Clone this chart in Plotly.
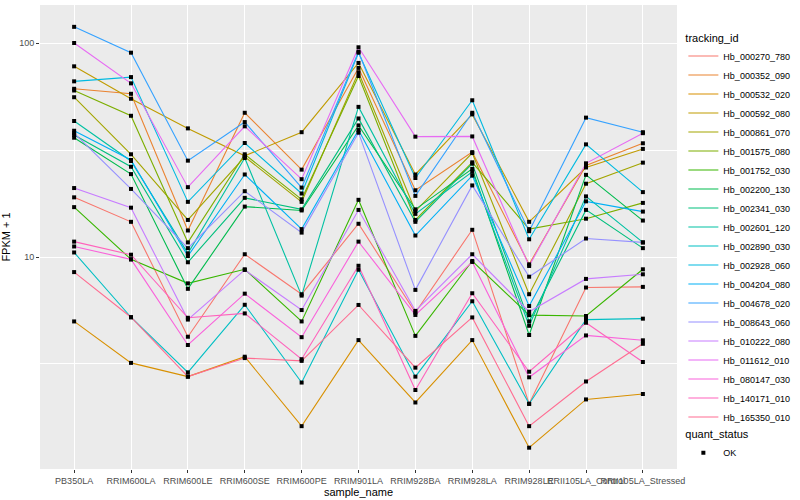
import plotly.graph_objects as go

samples = ["PB350LA", "RRIM600LA", "RRIM600LE", "RRIM600SE", "RRIM600PE", "RRIM901LA",
           "RRIM928BA", "RRIM928LA", "RRIM928LE", "RRII105LA_Control", "RRII105LA_Stressed"]

tracking_ids = ["Hb_000270_780", "Hb_000352_090", "Hb_000532_020", "Hb_000592_080", "Hb_000861_070",
                "Hb_001575_080", "Hb_001752_030", "Hb_002200_130", "Hb_002341_030", "Hb_002601_120",
                "Hb_002890_030", "Hb_002928_060", "Hb_004204_080", "Hb_004678_020", "Hb_008643_060",
                "Hb_010222_080", "Hb_011612_010", "Hb_080147_030", "Hb_140171_010", "Hb_165350_010"]

colors = ["#F8766D", "#EA8331", "#D89000", "#C09B00", "#A3A500", "#7CAE00", "#39B600", "#00BB4E",
          "#00BF7D", "#00C1A3", "#00BFC4", "#00BAE0", "#00B0F6", "#35A2FF", "#9590FF", "#C77CFF",
          "#E76BF3", "#FA62DB", "#FF62BC", "#FF6C91"]

# FPKM + 1 per sample
hb_000270_780 = [19.0, 14.6, 4.24, 10.3, 6.7, 14.3, 5.5, 13.4, 2.06, 7.2, 7.25]
hb_000352_090 = [61.1, 57.9, 13.3, 47.2, 25.6, 76.5, 20.5, 30.9, 9.24, 26.8, 34.0]
hb_000532_020 = [5.0, 3.2, 2.76, 3.42, 1.62, 4.09, 2.09, 4.09, 1.285, 2.16, 2.29]
hb_000592_080 = [77.8, 54.9, 39.9, 29.7, 38.3, 80.7, 24.3, 46.4, 14.6, 26.2, 32.0]
hb_000861_070 = [55.8, 30.2, 14.9, 29.4, 18.1, 73.0, 16.4, 30.6, 6.7, 22.0, 27.6]
hb_001575_080 = [60.0, 45.7, 11.7, 30.2, 18.6, 70.1, 14.9, 27.7, 13.5, 15.1, 17.9]
hb_001752_030 = [17.1, 9.75, 7.53, 8.76, 5.0, 18.5, 4.28, 9.58, 5.35, 5.3, 8.76]
hb_002200_130 = [36.1, 24.4, 7.1, 17.2, 16.5, 41.2, 16.7, 25.8, 4.32, 24.2, 14.8]
hb_002341_030 = [37.2, 26.4, 9.45, 18.9, 16.7, 44.4, 14.6, 27.3, 5.0, 16.6, 11.0]
hb_002601_120 = [43.2, 28.1, 10.4, 29.0, 6.6, 50.3, 15.9, 25.0, 4.77, 19.2, 11.7]
hb_002890_030 = [10.5, 5.23, 2.89, 5.98, 2.59, 8.72, 2.76, 6.21, 2.06, 5.1, 5.15]
hb_002928_060 = [66.2, 69.3, 18.1, 34.1, 19.8, 90.1, 23.4, 54.0, 12.1, 33.6, 20.1]
hb_004204_080 = [38.9, 28.4, 10.1, 24.3, 13.5, 39.2, 12.6, 24.0, 5.9, 18.2, 16.3]
hb_004678_020 = [119.0, 90.1, 28.2, 42.7, 21.1, 91.0, 19.3, 47.2, 13.2, 44.8, 38.3]
hb_008643_060 = [37.9, 20.8, 11.0, 20.3, 13.0, 38.1, 7.02, 21.6, 8.09, 12.2, 11.7]
hb_010222_080 = [21.0, 17.0, 5.1, 8.7, 5.65, 16.6, 5.6, 10.3, 5.55, 7.9, 8.3]
hb_011612_010 = [100.0, 64.8, 21.2, 40.8, 23.1, 95.5, 36.5, 36.6, 9.08, 27.4, 37.9]
hb_080147_030 = [11.2, 9.75, 3.88, 6.74, 4.22, 11.8, 5.36, 9.48, 2.74, 4.3, 4.08]
hb_140171_010 = [11.8, 10.25, 5.2, 5.45, 3.33, 9.1, 2.39, 6.77, 2.91, 4.93, 3.23]
hb_165350_010 = [8.5, 5.23, 2.76, 3.37, 3.27, 5.97, 3.04, 5.22, 1.62, 2.62, 3.93]

series_values = [hb_000270_780, hb_000352_090, hb_000532_020, hb_000592_080, hb_000861_070,
                 hb_001575_080, hb_001752_030, hb_002200_130, hb_002341_030, hb_002601_120,
                 hb_002890_030, hb_002928_060, hb_004204_080, hb_004678_020, hb_008643_060,
                 hb_010222_080, hb_011612_010, hb_080147_030, hb_140171_010, hb_165350_010]

quant_status = ["OK"]

FONT = "Liberation Sans, Arial, Helvetica, sans-serif"

fig = go.Figure()
for tid, col, vals in zip(tracking_ids, colors, series_values):
    fig.add_trace(go.Scatter(x=samples, y=vals, mode="lines", name=tid,
                             line=dict(color=col, width=1.1), legend="legend"))

all_x = [s for vals in series_values for s in samples]
all_y = [v for vals in series_values for v in vals]
fig.add_trace(go.Scatter(x=all_x, y=all_y, mode="markers", name=quant_status[0],
                         marker=dict(symbol="square", size=4, color="black"),
                         legend="legend2"))

fig.update_layout(
    width=800, height=500,
    margin=dict(l=40, r=116, t=5, b=31),
    paper_bgcolor="white", plot_bgcolor="#EBEBEB",
    font=dict(family=FONT, color="black"),
    showlegend=True,
    legend=dict(title=dict(text="tracking_id", font=dict(size=11)),
                font=dict(size=9), x=1.01, xanchor="left", y=0.952, yanchor="top",
                bgcolor="rgba(0,0,0,0)", tracegroupgap=0, itemwidth=30),
    legend2=dict(title=dict(text="quant_status", font=dict(size=11)),
                 font=dict(size=9), x=1.01, xanchor="left", y=0.097, yanchor="top",
                 bgcolor="rgba(0,0,0,0)", itemwidth=30),
)

fig.update_xaxes(type="category", categoryorder="array", categoryarray=samples,
                 range=[-0.6, len(samples) - 0.4], showgrid=True, gridcolor="white", gridwidth=1.4,
                 ticks="outside", ticklen=3, tickcolor="#333333", tickangle=0, automargin=False,
                 tickfont=dict(size=9, color="#4D4D4D"), zeroline=False, showline=False,
                 title=dict(text="sample_name", font=dict(size=11), standoff=1))

fig.update_yaxes(type="log", range=[0.0093, 2.1776], tickvals=[10, 100], ticktext=["10", "100"],
                 showgrid=True, gridcolor="white", gridwidth=1.4, automargin=False,
                 minor=dict(tickvals=[10 ** 0.5, 10 ** 1.5], showgrid=True, gridcolor="white",
                            gridwidth=0.7, ticks=""),
                 ticks="outside", ticklen=3, tickcolor="#333333",
                 tickfont=dict(size=9, color="#4D4D4D"), zeroline=False, showline=False,
                 title=dict(text="FPKM + 1", font=dict(size=11), standoff=6))

fig.write_html("out.html", config={"displayModeBar": False},
               post_script="document.body.style.margin='0px';")
